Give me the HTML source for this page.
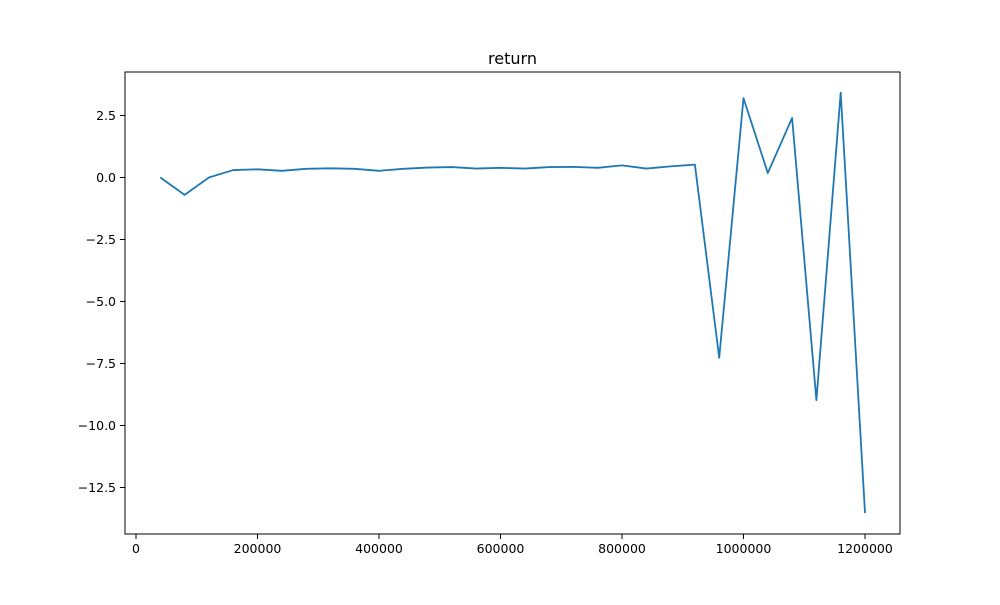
<!DOCTYPE html>
<html><head><meta charset="utf-8"><style>
html,body{margin:0;padding:0;background:#fff;}
svg text{font-family:"DejaVu Sans","Liberation Sans",sans-serif;fill:#000;}
</style></head><body>
<svg id="chart" width="1000" height="600" xmlns="http://www.w3.org/2000/svg">
<rect width="1000" height="600" fill="#fff"/>
<text x="512.5" y="64" font-size="16" text-anchor="middle">return</text>
<g id="xt"></g>
<g id="yt"></g>
<path id="line" fill="none" stroke="#1f77b4" stroke-width="1.8" stroke-linejoin="round"/>
<rect x="125" y="72" width="775" height="462" fill="none" stroke="#000" stroke-width="1"/>
</svg>
<script>
const steps = [40000,80000,120000,160000,200000,240000,280000,320000,360000,400000,440000,480000,520000,560000,600000,640000,680000,720000,760000,800000,840000,880000,920000,960000,1000000,1040000,1080000,1120000,1160000,1200000];
const returns = [0.0,-0.7,0.0,0.3,0.33,0.27,0.35,0.37,0.35,0.27,0.35,0.4,0.42,0.36,0.39,0.36,0.42,0.43,0.39,0.49,0.36,0.45,0.52,-7.27,3.2,0.18,2.4,-8.98,3.42,-13.53];
const xTicks = [0,200000,400000,600000,800000,1000000,1200000];
const yTicks = [-12.5,-10.0,-7.5,-5.0,-2.5,0.0,2.5];
const yTickLabels = ["\u221212.5","\u221210.0","\u22127.5","\u22125.0","\u22122.5","0.0","2.5"];
const NS="http://www.w3.org/2000/svg";
function xs(v){return 136+v*(729/1200000);}
function ys(v){return 177.5-v*24.8;}
const xt=document.getElementById('xt'), yt=document.getElementById('yt');
xTicks.forEach(t=>{
  const l=document.createElementNS(NS,'line');
  l.setAttribute('x1',xs(t));l.setAttribute('x2',xs(t));l.setAttribute('y1',534);l.setAttribute('y2',539);
  l.setAttribute('stroke','#000');l.setAttribute('stroke-width','1');
  
  
  xt.appendChild(l);
  const s=document.createElementNS(NS,'text');
  s.setAttribute('x',xs(t));s.setAttribute('y',553);s.setAttribute('font-size','12.5');s.setAttribute('text-anchor','middle');
  s.textContent=String(t);
  
  
  xt.appendChild(s);
});
yTicks.forEach((t,i)=>{
  const l=document.createElementNS(NS,'line');
  l.setAttribute('x1',120);l.setAttribute('x2',125);l.setAttribute('y1',ys(t));l.setAttribute('y2',ys(t));
  l.setAttribute('stroke','#000');l.setAttribute('stroke-width','1');
  
  
  yt.appendChild(l);
  const s=document.createElementNS(NS,'text');
  s.setAttribute('x',116);s.setAttribute('y',ys(t)+4.5);s.setAttribute('font-size','12.5');s.setAttribute('text-anchor','end');
  s.textContent=yTickLabels[i];
  
  
  yt.appendChild(s);
});
document.getElementById('line').setAttribute('d',steps.map((x,i)=>(i?'L':'M')+xs(x).toFixed(2)+','+ys(returns[i]).toFixed(2)).join(' '));
</script>
</body></html>
